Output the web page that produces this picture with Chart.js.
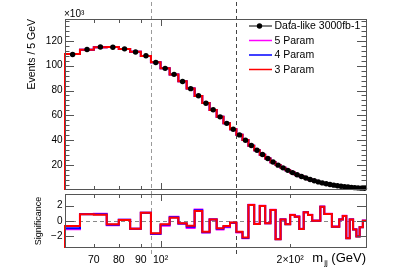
<!DOCTYPE html>
<html>
<head>
<meta charset="utf-8">
<script src="https://cdn.jsdelivr.net/npm/chart.js@4.4.1/dist/chart.umd.min.js"></script>
<style>
  body { margin: 0; background: #fff; }
  #wrap { position: relative; width: 407px; height: 276px; }
  canvas { position: absolute; left: 0; }
  #upper { top: 0; }
  #lower { top: 194px; }
</style>
</head>
<body>
<div id="wrap">
  <canvas id="upper" width="407" height="194"></canvas>
  <canvas id="lower" width="407" height="82"></canvas>
</div>
<script>
/* ── data (mjj in GeV, events in units of 10^3 per 5 GeV bin) ───────────── */
const binEdges = [60, 65, 70, 75, 80, 85, 90, 95, 100, 105, 110, 115, 120, 125, 130, 135,
  140, 145, 150, 155, 160, 165, 170, 175, 180, 185, 190, 195, 200, 205, 210, 215, 220,
  225, 230, 235, 240, 245, 250, 255, 260, 265, 270, 275, 280, 285, 290, 295, 300];

const dataVals = [109.0, 113.0, 115.0, 114.8, 113.5, 111.0, 108.0, 102.5, 97.8, 93.0,
  87.3, 81.5, 75.8, 69.8, 64.5, 58.8, 53.6, 48.8, 44.3, 40.0, 35.8, 32.0, 28.5, 25.3,
  22.5, 20.0, 17.8, 15.8, 14.0, 12.3, 10.9, 9.6, 8.4, 7.4, 6.5, 5.7, 5.0, 4.4, 3.9, 3.4,
  3.0, 2.7, 2.4, 2.1, 1.9, 1.7, 1.5, 1.35];

// the three fits are indistinguishable at this scale
const fitVals = [109.3, 112.8, 114.8, 115.0, 113.4, 111.2, 107.8, 102.8, 97.9, 92.9,
  87.4, 81.6, 75.6, 70.0, 64.4, 59.0, 53.7, 48.8, 44.5, 40.2, 35.6, 32.0, 28.4, 25.4,
  22.4, 20.1, 17.8, 15.9, 14.0, 12.3, 11.0, 9.6, 8.4, 7.4, 6.5, 5.7, 5.0, 4.4, 3.9, 3.4,
  3.0, 2.7, 2.4, 2.1, 1.9, 1.7, 1.5, 1.35];

const sig3 = [-0.65, 0.86, 0.80, -0.43, 0.13, -1.00, 1.07, -1.59, -0.43, 0.43,
  -0.30, -0.60, 1.29, -1.38, 0.20, -0.95, -0.65, -0.20, -1.38, -2.15, 2.06, -0.39,
  1.94, -0.30, 1.42, -2.36, 0.20, -0.43, 0.77, 0.56, -1.03, 1.12, 0.77, 0.04, 0.04,
  1.85, 0.90, 0.90, -0.73, -0.73, 0.20, 0.65, -2.23, 0.20, -1.10, -2.00, -0.80, 0.04];
const sig4 = [-0.95, 0.88, 0.88, -0.50, 0.15, -1.00, 1.07, -1.65, -0.50, 0.50,
  -0.33, -0.75, 1.40, -1.45, 0.20, -1.02, -0.72, -0.22, -1.42, -2.20, 2.06, -0.39,
  1.94, -0.30, 1.42, -2.36, 0.20, -0.43, 0.77, 0.56, -1.03, 1.12, 0.77, 0.04, 0.04,
  1.85, 0.90, 0.90, -0.73, -0.73, 0.20, 0.65, -2.23, 0.20, -1.10, -2.00, -0.80, 0.04];
const sig5 = [-1.07, 0.90, 0.95, -0.55, 0.16, -1.02, 1.07, -1.70, -0.60, 0.55,
  -0.36, -0.90, 1.50, -1.50, 0.22, -1.10, -0.80, -0.25, -1.50, -2.25, 2.10, -0.36,
  1.98, -0.28, 1.45, -2.33, 0.22, -0.40, 0.80, 0.60, -1.00, 1.15, 0.80, 0.06, 0.06,
  1.88, 0.93, 0.93, -0.70, -0.70, 0.22, 0.68, -2.20, 0.22, -1.08, -1.95, -0.78, 0.06];

const seriesNames = ['Data-like 3000fb-1', '5 Param', '4 Param', '3 Param'];
const seriesColors = ['#000000', '#ff00ff', '#0000ff', '#ff0000'];

const cutLines = [95, 150];
const cutColors = ['#9a9a9a', '#444444'];

const yTicksUpper = [20, 40, 60, 80, 100, 120];
const yTicksLower = [2, 0, -2];
const xTickVals = [70, 80, 90, 100, 200];
const xTickLabels = ['70', '80', '90', '10²', '2×10²'];

/* ── helpers ─────────────────────────────────────────────────────────────── */
const FONT = '"Liberation Sans", Arial, Helvetica, sans-serif';
const frameColor = '#555';

function stepPoints(vals, floor) {
  const pts = [{ x: binEdges[0], y: floor }];
  vals.forEach((v, i) => pts.push({ x: binEdges[i], y: v }));
  pts.push({ x: binEdges[binEdges.length - 1], y: vals[vals.length - 1] });
  return pts;
}

function stepSet(vals, floor, color, order) {
  return {
    type: 'line', data: stepPoints(vals, floor), stepped: 'before',
    borderColor: color, borderWidth: 2, pointRadius: 0, fill: false,
    clip: 3, order
  };
}

function drawCuts(chart, y0, y1) {
  const { ctx, scales: { x } } = chart;
  ctx.save();
  ctx.lineWidth = 1;
  ctx.setLineDash([4, 3]);
  cutLines.forEach((c, i) => {
    const px = Math.round(x.getPixelForValue(c)) + 0.5;
    ctx.strokeStyle = cutColors[i];
    ctx.beginPath(); ctx.moveTo(px, y0); ctx.lineTo(px, y1); ctx.stroke();
  });
  ctx.restore();
}

function drawFrame(chart, yMajor, yMinor) {
  const { ctx, chartArea: a, scales: { x, y } } = chart;
  ctx.save();
  ctx.strokeStyle = frameColor;
  ctx.lineWidth = 1;
  ctx.beginPath();
  yMajor.forEach(v => {
    const py = Math.round(y.getPixelForValue(v)) + 0.5;
    ctx.moveTo(a.left, py); ctx.lineTo(a.left + 9, py);
    ctx.moveTo(a.right, py); ctx.lineTo(a.right - 9, py);
  });
  yMinor.forEach(v => {
    const py = Math.round(y.getPixelForValue(v)) + 0.5;
    ctx.moveTo(a.left, py); ctx.lineTo(a.left + 4.5, py);
    ctx.moveTo(a.right, py); ctx.lineTo(a.right - 4.5, py);
  });
  xTickVals.forEach(v => {
    const px = Math.round(x.getPixelForValue(v)) + 0.5;
    const len = v === 100 ? 7 : 4;
    ctx.moveTo(px, a.top); ctx.lineTo(px, a.top + len);
    ctx.moveTo(px, a.bottom); ctx.lineTo(px, a.bottom - len);
  });
  ctx.stroke();
  ctx.strokeRect(Math.round(a.left) + 0.5, Math.round(a.top) + 0.5,
    Math.round(a.right - a.left), Math.round(a.bottom - a.top) - 1);
  ctx.restore();
}

/* ── upper pad ───────────────────────────────────────────────────────────── */
const upperDeco = {
  id: 'upperDeco',
  beforeDatasetsDraw(chart) { drawCuts(chart, 2, chart.height); },
  afterDraw(chart) {
    const { ctx, chartArea: a, scales: { y } } = chart;
    const minor = [];
    for (let v = 4; v < 138; v += 4) if (v % 20) minor.push(v);
    drawFrame(chart, yTicksUpper, minor);

    ctx.save();
    ctx.fillStyle = '#000';
    ctx.font = '10px ' + FONT;
    ctx.textAlign = 'right';
    ctx.textBaseline = 'middle';
    yTicksUpper.forEach(v => ctx.fillText(String(v), a.left - 2.5, y.getPixelForValue(v)));

    ctx.textAlign = 'left';
    ctx.textBaseline = 'alphabetic';
    ctx.fillText('×10³', a.left - 1, a.top - 2);

    ctx.save();
    ctx.translate(35, a.top);
    ctx.rotate(-Math.PI / 2);
    ctx.font = '10.5px ' + FONT;
    ctx.textAlign = 'right';
    ctx.fillText('Events / 5 GeV', 0, 0);
    ctx.restore();

    // legend
    const lx0 = 249, lx1 = 272, rowY = [26, 40.5, 55, 69.5];
    ctx.font = '10.5px ' + FONT;
    ctx.textBaseline = 'middle';
    seriesNames.forEach((name, i) => {
      ctx.strokeStyle = seriesColors[i];
      ctx.lineWidth = i === 0 ? 1 : 1.5;
      ctx.beginPath(); ctx.moveTo(lx0, rowY[i]); ctx.lineTo(lx1, rowY[i]); ctx.stroke();
      if (i === 0) {
        ctx.fillStyle = '#000';
        ctx.beginPath(); ctx.arc(259.5, rowY[i], 2.7, 0, Math.PI * 2); ctx.fill();
      }
      ctx.fillStyle = '#000';
      ctx.fillText(name, lx1 + 2.5, rowY[i] + 0.5);
    });
    ctx.restore();
  }
};

new Chart(document.getElementById('upper'), {
  data: {
    datasets: [
      {
        type: 'scatter', label: seriesNames[0],
        data: dataVals.map((v, i) => ({ x: (binEdges[i] + binEdges[i + 1]) / 2, y: v })),
        backgroundColor: '#000', borderColor: '#000', pointRadius: 2.7,
        pointBorderWidth: 0, order: 0, clip: 3
      },
      Object.assign(stepSet(fitVals, 0, seriesColors[3], 1), { label: seriesNames[3] }),
      Object.assign(stepSet(fitVals, 0, seriesColors[2], 2), { label: seriesNames[2] }),
      Object.assign(stepSet(fitVals, 0, seriesColors[1], 3), { label: seriesNames[1] })
    ]
  },
  options: {
    responsive: false, animation: false,
    layout: { padding: { left: 65, right: 41, top: 19, bottom: 0 } },
    plugins: { legend: { display: false }, tooltip: { enabled: false } },
    scales: {
      x: { type: 'logarithmic', min: 60, max: 300, display: false },
      y: { type: 'linear', min: 0, max: 137.5, display: false }
    }
  },
  plugins: [upperDeco]
});

/* ── lower pad ───────────────────────────────────────────────────────────── */
const lowerDeco = {
  id: 'lowerDeco',
  beforeDatasetsDraw(chart) {
    const { ctx, chartArea: a, scales: { y } } = chart;
    drawCuts(chart, 0, a.bottom + 7);
    ctx.save();
    ctx.strokeStyle = '#888';
    ctx.setLineDash([4, 3]);
    const py = Math.round(y.getPixelForValue(0)) + 0.5;
    ctx.beginPath(); ctx.moveTo(a.left, py); ctx.lineTo(a.right, py); ctx.stroke();
    ctx.restore();
  },
  afterDraw(chart) {
    const { ctx, chartArea: a, scales: { x, y } } = chart;
    drawFrame(chart, yTicksLower, []);

    ctx.save();
    ctx.fillStyle = '#000';
    ctx.font = '10px ' + FONT;
    ctx.textAlign = 'right';
    ctx.textBaseline = 'middle';
    yTicksLower.forEach(v => ctx.fillText(v < 0 ? '−' + Math.abs(v) : String(v),
      a.left - 2.5, y.getPixelForValue(v)));

    ctx.textAlign = 'center';
    ctx.font = '10.5px ' + FONT;
    xTickVals.forEach((v, i) => ctx.fillText(xTickLabels[i], x.getPixelForValue(v), a.bottom + 12));

    // axis title m_jj (GeV), right aligned to the frame
    ctx.font = '13px ' + FONT;
    const rest = ' (GeV)';
    const wRest = ctx.measureText(rest).width;
    ctx.textAlign = 'right';
    ctx.fillText(rest, a.right, a.bottom + 10.5);
    ctx.font = '8px ' + FONT;
    const wSub = ctx.measureText('jj').width + 1;
    ctx.fillText('jj', a.right - wRest, a.bottom + 14.5);
    ctx.font = '13px ' + FONT;
    ctx.fillText('m', a.right - wRest - wSub, a.bottom + 10.5);

    ctx.save();
    ctx.translate(41, (a.top + a.bottom) / 2);
    ctx.rotate(-Math.PI / 2);
    ctx.font = '9px ' + FONT;
    ctx.textAlign = 'center';
    ctx.textBaseline = 'alphabetic';
    ctx.fillText('Significance', 0, 0);
    ctx.restore();
    ctx.restore();
  }
};

new Chart(document.getElementById('lower'), {
  data: {
    datasets: [
      Object.assign(stepSet(sig3, -3.5, seriesColors[3], 0), { label: seriesNames[3] }),
      Object.assign(stepSet(sig4, -3.5, seriesColors[2], 1), { label: seriesNames[2] }),
      Object.assign(stepSet(sig5, -3.5, seriesColors[1], 2), { label: seriesNames[1] })
    ]
  },
  options: {
    responsive: false, animation: false,
    layout: { padding: { left: 65, right: 41, top: 0, bottom: 28 } },
    plugins: { legend: { display: false }, tooltip: { enabled: false } },
    scales: {
      x: { type: 'logarithmic', min: 60, max: 300, display: false },
      y: { type: 'linear', min: -3.5, max: 3.5, display: false }
    }
  },
  plugins: [lowerDeco]
});
</script>
</body>
</html>
